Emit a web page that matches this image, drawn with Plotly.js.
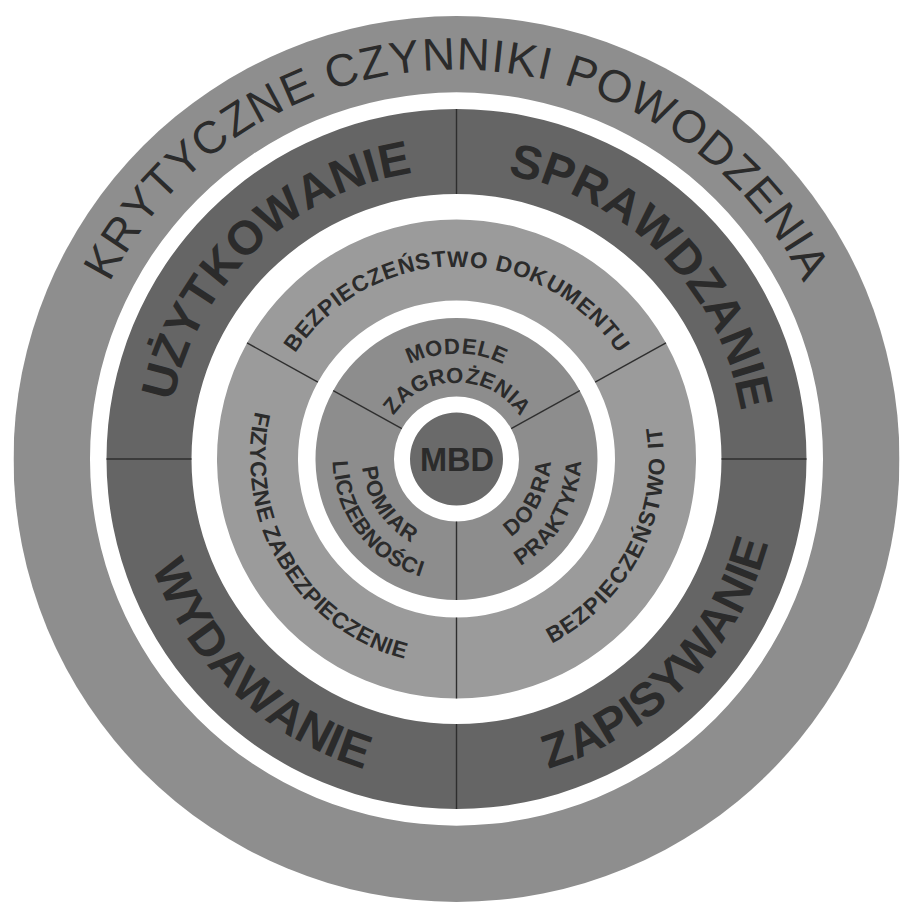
<!DOCTYPE html>
<html>
<head>
<meta charset="utf-8">
<script src="https://cdn.plot.ly/plotly-3.0.1.min.js"></script>
<style>html,body{margin:0;padding:0;background:#fff;}</style>
</head>
<body>
<div id="chart" style="width:900px;height:902px;"></div>
<script>
// ---------------- DATA ----------------
const centerLabel = 'MBD';
const coreLabels = [['MODELE', 'ZAGROŻENIA'], ['POMIAR', 'LICZEBNOŚCI'], ['DOBRA', 'PRAKTYKA']];
const securityLabels = ['BEZPIECZEŃSTWO DOKUMENTU', 'FIZYCZNE ZABEZPIECZENIE', 'BEZPIECZEŃSTWO IT'];
const stageLabels = ['SPRAWDZANIE', 'UŻYTKOWANIE', 'WYDAWANIE', 'ZAPISYWANIE'];
const outerTitle = 'KRYTYCZNE CZYNNIKI POWODZENIA';

// ring radii (inner, outer)
const ringInner = [0, 62.5, 158.5, 265, 366.5];
const ringOuter = [46.5, 141, 239.5, 350, 445];
// segment boundaries (degrees, counterclockwise from east)
const threeSplit = [29, 151, 270, 389];
const fourSplit = [0, 90, 180, 270, 360];

// ---------------- STYLE / GEOMETRY ----------------
const W = 900, H = 902;
const CX = 456.5, CY = 459, HALF = 443;
const ringColors = ['#6a6a6a', '#8d8d8d', '#9b9b9b', '#656565', '#8e8e8e'];
const textColor = '#2b2b2b';
const FONT = 'Liberation Sans, Arial, Helvetica, sans-serif';

function segs(bounds) {
  const c = [], w = [];
  for (let i = 0; i < bounds.length - 1; i++) {
    c.push((bounds[i] + bounds[i + 1]) / 2);
    w.push(bounds[i + 1] - bounds[i]);
  }
  return {c, w};
}

const traces = [];
function ring(idx, bounds) {
  const s = bounds ? segs(bounds) : {c: [90], w: [360]};
  traces.push({
    type: 'barpolar',
    theta: s.c,
    width: s.w,
    base: s.c.map(() => ringInner[idx]),
    r: s.c.map(() => ringOuter[idx] - ringInner[idx]),
    marker: {color: ringColors[idx], line: {width: 0}},
    hoverinfo: 'skip'
  });
}
ring(4, null);
ring(3, fourSplit);
ring(2, threeSplit);
ring(1, threeSplit);
ring(0, null);

function dividers(idx, bounds) {
  const th = [], rr = [];
  bounds.slice(0, -1).forEach(a => {
    th.push(a, a, null);
    rr.push(ringInner[idx], ringOuter[idx], null);
  });
  traces.push({
    type: 'scatterpolar', mode: 'lines', theta: th, r: rr,
    line: {color: '#2e2e2e', width: 1.4}, hoverinfo: 'skip', connectgaps: false
  });
}
dividers(3, fourSplit);
dividers(2, threeSplit);
dividers(1, threeSplit);

// ---------------- ARC TEXT ----------------
const annotations = [];
const cnv = document.createElement('canvas');
const ctx = cnv.getContext('2d');

function norm(a) { a = ((a % 360) + 360) % 360; if (a > 180) a -= 360; return a; }

function arcText(text, spec) {
  ctx.font = (spec.bold ? 'bold ' : '') + spec.fs + 'px "Liberation Sans"';
  const chars = Array.from(text);
  const widths = chars.map(ch => ctx.measureText(ch).width);
  const total = widths.reduce((a, b) => a + b, 0) + spec.track * (chars.length - 1);
  const sign = spec.dir === 'out' ? 1 : -1;
  const rb = spec.r - sign * 0.35 * spec.fs;
  let s = -total / 2;
  chars.forEach((ch, i) => {
    const sc = s + widths[i] / 2;
    s += widths[i] + spec.track;
    if (ch === ' ') return;
    const a = spec.angle - sign * (sc / rb) * 180 / Math.PI;
    const ar = a * Math.PI / 180;
    const px = CX + spec.r * Math.cos(ar);
    const py = CY - spec.r * Math.sin(ar);
    const rot = sign > 0 ? 90 - a : -90 - a;
    annotations.push({
      xref: 'paper', yref: 'paper', x: px / W, y: 1 - py / H,
      xanchor: 'center', yanchor: 'middle', showarrow: false,
      text: spec.bold ? '<b>' + ch + '</b>' : ch,
      textangle: norm(rot),
      font: {family: FONT, size: spec.fs, color: textColor},
      borderpad: 0
    });
  });
}

// outer title
arcText(outerTitle, {r: 405, angle: 90, fs: 45.5, bold: false, dir: 'out', track: 1.2});
// stages
const stageSpecs = [
  {r: 305, angle: 44.6, dir: 'out'},
  {r: 306, angle: 133.7, dir: 'out'},
  {r: 306.5, angle: 226.5, dir: 'in'},
  {r: 306.5, angle: 315.8, dir: 'in'}
];
stageLabels.forEach((t, i) => arcText(t, Object.assign({fs: 47.5, bold: true, track: 0}, stageSpecs[i])));
// security
const secSpecs = [
  {r: 200, angle: 90, dir: 'out', track: 0.85},
  {r: 199, angle: 211, dir: 'in', track: 0.5},
  {r: 200, angle: 333, dir: 'in', track: 1.5}
];
securityLabels.forEach((t, i) => arcText(t, Object.assign({fs: 22.5, bold: true}, secSpecs[i])));
// core
const coreSpecs = [
  [{r: 113, angle: 90, dir: 'out', track: 0.7}, {r: 84, angle: 89.5, dir: 'out', track: 0.4}],
  [{r: 87, angle: 213.6, dir: 'in', track: 1.2}, {r: 116, angle: 216.9, dir: 'in', track: 0.6}],
  [{r: 87, angle: 331.6, dir: 'in', track: 2.0}, {r: 117, angle: 330, dir: 'in', track: 0.6}]
];
coreLabels.forEach((lines, i) => lines.forEach((t, j) =>
  arcText(t, Object.assign({fs: 22, bold: true}, coreSpecs[i][j]))));
// center
annotations.push({
  xref: 'paper', yref: 'paper', x: CX / W, y: 1 - (CY + 1) / H,
  xanchor: 'center', yanchor: 'middle', showarrow: false,
  text: '<b>' + centerLabel + '</b>',
  font: {family: FONT, size: 32.5, color: textColor}
});

const layout = {
  width: W, height: H,
  margin: {l: 0, r: 0, t: 0, b: 0},
  paper_bgcolor: '#ffffff',
  showlegend: false,
  polar: {
    domain: {x: [(CX - HALF) / W, (CX + HALF) / W], y: [1 - (CY + HALF) / H, 1 - (CY - HALF) / H]},
    bgcolor: '#ffffff',
    bargap: 0,
    radialaxis: {visible: false, range: [0, HALF], showgrid: false},
    angularaxis: {visible: false, rotation: 0, direction: 'counterclockwise', showgrid: false}
  },
  annotations: annotations
};

Plotly.newPlot('chart', traces, layout, {staticPlot: true, displayModeBar: false});
</script>
</body>
</html>
